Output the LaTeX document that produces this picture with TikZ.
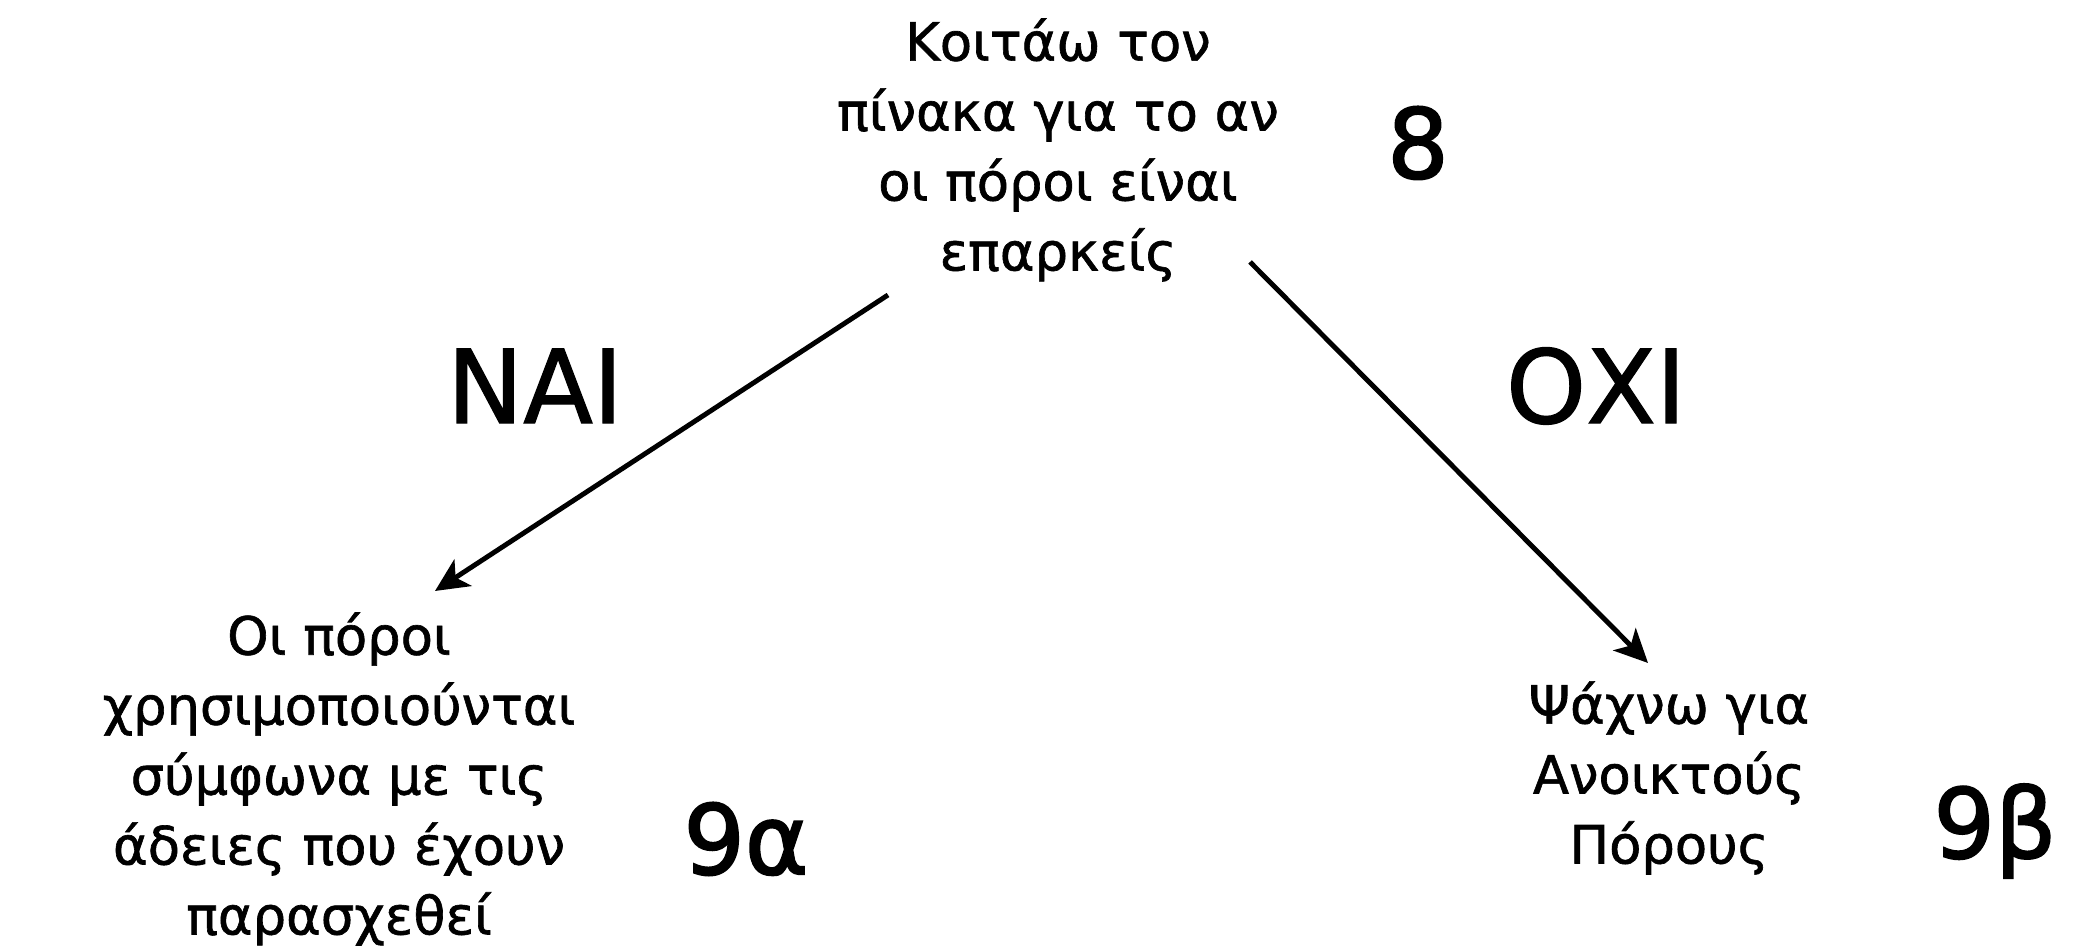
\documentclass[tikz,border=0pt]{standalone}
\usepackage{fontspec}
\setmainfont{DejaVu Sans}
\newfontfamily\boxfont[FakeBold=1.2]{DejaVu Sans}
\newfontfamily\numfont[FakeBold=2]{DejaVu Sans}
\usetikzlibrary{arrows.meta, positioning, calc}

\begin{document}
\begin{tikzpicture}[
    txt/.style={align=center, inner sep=1pt, font=\boxfont\fontsize{15}{19.9}\selectfont},
    num/.style={inner sep=1pt, font=\numfont\fontsize{27.5}{32}\selectfont},
    ans/.style={inner sep=1pt, font=\boxfont\fontsize{29}{34}\selectfont},
    arr/.style={line width=1.4pt, -{Stealth[length=9.5pt,width=9pt,inset=2.5pt]}}
  ]
  \useasboundingbox (0,0) rectangle (20.85,9.51);
  % Question
  \node[txt] (q8) at (10.58,8.01) {Κοιτάω τον\\πίνακα για το αν\\οι πόροι είναι\\επαρκείς};
  \node[num] (n8) at (14.18,8.08) {8};
  % Answers
  \node[ans] (nai) at (5.35,5.65) {ΝΑΙ};
  \node[ans] (oxi) at (15.96,5.65) {ΟΧΙ};
  % Outcomes
  \node[txt] (q9a) at (3.39,1.72) {Οι πόροι\\χρησιμοποιούνται\\σύμφωνα με τις\\άδειες που έχουν\\παρασχεθεί};
  \node[num] (n9a) at (7.46,1.12) {9α};
  \node[txt] (q9b) at (16.69,1.73) {Ψάχνω για\\Ανοικτούς\\Πόρους};
  \node[num] (n9b) at (19.95,1.20) {9β};
  % Connectors
  \coordinate (naiA) at (8.88,6.56);
  \coordinate (naiB) at (4.35,3.60);
  \coordinate (oxiA) at (12.50,6.89);
  \coordinate (oxiB) at (16.48,2.88);
  \draw[arr] (naiA) -- (naiB);
  \draw[arr] (oxiA) -- (oxiB);
\end{tikzpicture}
\end{document}
